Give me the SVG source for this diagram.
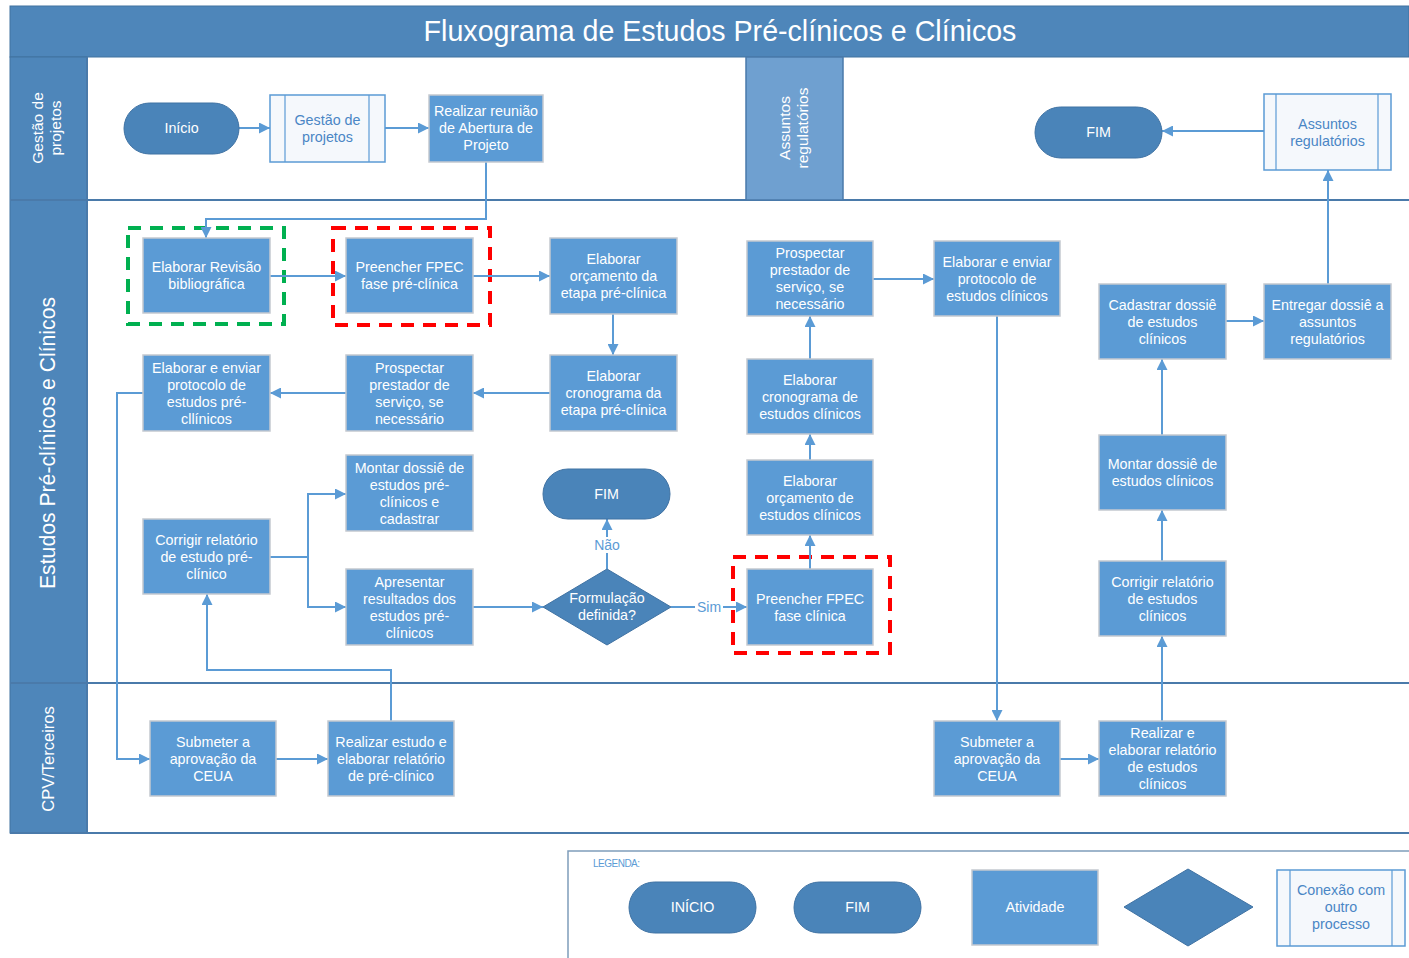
<svg xmlns="http://www.w3.org/2000/svg" width="1409" height="958" viewBox="0 0 1409 958">
<defs>
<marker id="ah" viewBox="0 0 10 10" refX="10" refY="5" markerWidth="11" markerHeight="11" markerUnits="userSpaceOnUse" orient="auto">
<path d="M0,0 L10,5 L0,10 z" fill="#5B9BD5"/>
</marker>
<style>
text{font-family:"Liberation Sans",Arial,sans-serif;}
.act rect{fill:#5B9BD5;stroke:#C4C9D0;stroke-width:1.5;}
.act text,.term text,.dec text{fill:#fff;font-size:14.3px;text-anchor:middle;}
.term rect{fill:#4A84B9;stroke:#3F72A3;stroke-width:1;}
.dec polygon{fill:#4A84B9;stroke:#3F72A3;stroke-width:1;}
.sub rect{fill:#F5F8FC;stroke:#5B9BD5;stroke-width:1.5;}
.sub line{stroke:#5B9BD5;stroke-width:1.2;}
.sub text{fill:#4A86C5;font-size:14.3px;text-anchor:middle;}
.lane{fill:#4E86BA;}
.lanetxt{fill:#fff;text-anchor:middle;}
#connectors path{fill:none;stroke:#5B9BD5;stroke-width:2;marker-end:url(#ah);}
.lbl{fill:#5B9BD5;font-size:14px;text-anchor:middle;}
.sep{stroke:#4A7AAA;stroke-width:2;}
</style>
</defs>
<rect width="1409" height="958" fill="#fff"/>

<!-- Title -->
<g id="title">
<rect x="10" y="6" width="1399" height="51" fill="#4E86BA" stroke="#41729F" stroke-width="1"/>
<text x="720" y="41" font-size="28.6" fill="#fff" text-anchor="middle">Fluxograma de Estudos Pré-clínicos e Clínicos</text>
</g>

<!-- Lanes -->
<g id="lanes">
<rect class="lane" x="10" y="57" width="77" height="776" stroke="#41729F" stroke-width="1"/>
<line class="sep" x1="10" y1="200" x2="1409" y2="200"/>
<line class="sep" x1="10" y1="683" x2="1409" y2="683"/>
<line class="sep" x1="10" y1="833" x2="1409" y2="833"/>
<line class="sep" x1="87" y1="57" x2="87" y2="833" stroke-width="1"/>
<text class="lanetxt" transform="translate(48,128) rotate(-90)" font-size="15.5"><tspan x="0" y="-5">Gestão de</tspan><tspan x="0" y="13">projetos</tspan></text>
<text class="lanetxt" transform="translate(55,443) rotate(-90)" font-size="21.2">Estudos Pré-clínicos e Clínicos</text>
<text class="lanetxt" transform="translate(54,759) rotate(-90)" font-size="16.5">CPV/Terceiros</text>
<rect x="746" y="57" width="97" height="143" fill="#6FA0D0" stroke="#4A7AAA" stroke-width="1.5"/>
<text class="lanetxt" transform="translate(795,128) rotate(-90)" font-size="15.5"><tspan x="0" y="-5">Assuntos</tspan><tspan x="0" y="13">regulatórios</tspan></text>
</g>

<!-- Highlight boxes -->
<g id="highlights" fill="none" stroke-width="4" stroke-dasharray="13,9">
<rect x="128" y="228" width="156" height="96" stroke="#00B050"/>
<rect x="333" y="228" width="157" height="97" stroke="#FF0000"/>
<rect x="733" y="557" width="157" height="96" stroke="#FF0000"/>
</g>

<!-- Connectors -->
<g id="connectors">
<path d="M239,128 H270"/>
<path d="M385,128 H429"/>
<path d="M1264,131 H1162"/>
<path d="M486,162 V219 H206 V238"/>
<path d="M270,276 H346"/>
<path d="M473,276 H550"/>
<path d="M613,314 V355"/>
<path d="M550,393 H473"/>
<path d="M346,393 H270"/>
<path d="M143,393 H117 V759 H150"/>
<path d="M276,759 H328"/>
<path d="M391,721 V670 H207 V594"/>
<path d="M270,557 H308 V494 H346"/>
<path d="M308,557 V607 H346"/>
<path d="M473,607 H543"/>
<path d="M607,569 V519"/>
<path d="M671,607 H747"/>
<path d="M810,569 V535"/>
<path d="M810,460 V434"/>
<path d="M810,359 V316"/>
<path d="M873,279 H934"/>
<path d="M997,316 V721"/>
<path d="M1060,759 H1099"/>
<path d="M1162,721 V636"/>
<path d="M1162,561 V510"/>
<path d="M1162,435 V359"/>
<path d="M1226,321 H1264"/>
<path d="M1328,284 V170"/>
<rect x="592" y="537" width="30" height="16" fill="#fff"/>
<text class="lbl" x="607" y="550">Não</text>
<rect x="695" y="599" width="28" height="16" fill="#fff"/>
<text class="lbl" x="709" y="612">Sim</text>
</g>

<!-- Nodes: Lane 1 -->
<g id="inicio" class="term"><rect x="124" y="103" width="115" height="51" rx="25.5"/><text x="181.5" y="133">Início</text></g>
<g id="gestao" class="sub"><rect x="270" y="95" width="115" height="67"/><line x1="285" y1="95" x2="285" y2="162"/><line x1="369" y1="95" x2="369" y2="162"/><text><tspan x="327.5" y="125">Gestão de</tspan><tspan x="327.5" y="142">projetos</tspan></text></g>
<g id="reuniao" class="act"><rect x="429" y="95" width="114" height="67"/><text><tspan x="486" y="116">Realizar reunião</tspan><tspan x="486" y="133">de Abertura de</tspan><tspan x="486" y="150">Projeto</tspan></text></g>
<g id="fim1" class="term"><rect x="1035" y="107" width="127" height="51" rx="25.5"/><text x="1098.5" y="137">FIM</text></g>
<g id="assuntos" class="sub"><rect x="1264" y="94" width="127" height="76"/><line x1="1276" y1="94" x2="1276" y2="170"/><line x1="1378" y1="94" x2="1378" y2="170"/><text><tspan x="1327.5" y="129">Assuntos</tspan><tspan x="1327.5" y="146">regulatórios</tspan></text></g>

<!-- Lane 2 pre-clinical -->
<g id="revisao" class="act"><rect x="143" y="238" width="127" height="75"/><text><tspan x="206.5" y="272">Elaborar Revisão</tspan><tspan x="206.5" y="289">bibliográfica</tspan></text></g>
<g id="fpec-pre" class="act"><rect x="346" y="238" width="127" height="75"/><text><tspan x="409.5" y="272">Preencher FPEC</tspan><tspan x="409.5" y="289">fase pré-clínica</tspan></text></g>
<g id="orcamento-pre" class="act"><rect x="550" y="238" width="127" height="76"/><text><tspan x="613.5" y="264">Elaborar</tspan><tspan x="613.5" y="281">orçamento da</tspan><tspan x="613.5" y="298">etapa pré-clínica</tspan></text></g>
<g id="cronograma-pre" class="act"><rect x="550" y="355" width="127" height="76"/><text><tspan x="613.5" y="381">Elaborar</tspan><tspan x="613.5" y="398">cronograma da</tspan><tspan x="613.5" y="415">etapa pré-clínica</tspan></text></g>
<g id="prospectar-pre" class="act"><rect x="346" y="355" width="127" height="76"/><text><tspan x="409.5" y="372.5">Prospectar</tspan><tspan x="409.5" y="389.5">prestador de</tspan><tspan x="409.5" y="406.5">serviço, se</tspan><tspan x="409.5" y="423.5">necessário</tspan></text></g>
<g id="protocolo-pre" class="act"><rect x="143" y="355" width="127" height="76"/><text><tspan x="206.5" y="372.5">Elaborar e enviar</tspan><tspan x="206.5" y="389.5">protocolo de</tspan><tspan x="206.5" y="406.5">estudos pré-</tspan><tspan x="206.5" y="423.5">cllínicos</tspan></text></g>
<g id="montar-pre" class="act"><rect x="346" y="455" width="127" height="76"/><text><tspan x="409.5" y="472.5">Montar dossiê de</tspan><tspan x="409.5" y="489.5">estudos pré-</tspan><tspan x="409.5" y="506.5">clínicos e</tspan><tspan x="409.5" y="523.5">cadastrar</tspan></text></g>
<g id="corrigir-pre" class="act"><rect x="143" y="519" width="127" height="75"/><text><tspan x="206.5" y="545">Corrigir relatório</tspan><tspan x="206.5" y="562">de estudo pré-</tspan><tspan x="206.5" y="579">clínico</tspan></text></g>
<g id="apresentar" class="act"><rect x="346" y="569" width="127" height="76"/><text><tspan x="409.5" y="586.5">Apresentar</tspan><tspan x="409.5" y="603.5">resultados dos</tspan><tspan x="409.5" y="620.5">estudos pré-</tspan><tspan x="409.5" y="637.5">clínicos</tspan></text></g>
<g id="fim2" class="term"><rect x="543" y="469" width="127" height="50" rx="25"/><text x="606.5" y="499">FIM</text></g>
<g id="decisao" class="dec"><polygon points="607,569 671,607 607,645 543,607"/><text><tspan x="607" y="603">Formulação</tspan><tspan x="607" y="620">definida?</tspan></text></g>

<!-- Lane 2 clinical -->
<g id="fpec-clin" class="act"><rect x="747" y="569" width="126" height="76"/><text><tspan x="810" y="603.5">Preencher FPEC</tspan><tspan x="810" y="620.5">fase clínica</tspan></text></g>
<g id="orcamento-clin" class="act"><rect x="747" y="460" width="126" height="75"/><text><tspan x="810" y="485.5">Elaborar</tspan><tspan x="810" y="502.5">orçamento de</tspan><tspan x="810" y="519.5">estudos clínicos</tspan></text></g>
<g id="cronograma-clin" class="act"><rect x="747" y="359" width="126" height="75"/><text><tspan x="810" y="384.5">Elaborar</tspan><tspan x="810" y="401.5">cronograma de</tspan><tspan x="810" y="418.5">estudos clínicos</tspan></text></g>
<g id="prospectar-clin" class="act"><rect x="747" y="241" width="126" height="75"/><text><tspan x="810" y="258">Prospectar</tspan><tspan x="810" y="275">prestador de</tspan><tspan x="810" y="292">serviço, se</tspan><tspan x="810" y="309">necessário</tspan></text></g>
<g id="protocolo-clin" class="act"><rect x="934" y="241" width="126" height="75"/><text><tspan x="997" y="266.5">Elaborar e enviar</tspan><tspan x="997" y="283.5">protocolo de</tspan><tspan x="997" y="300.5">estudos clínicos</tspan></text></g>
<g id="cadastrar" class="act"><rect x="1099" y="284" width="127" height="75"/><text><tspan x="1162.5" y="309.5">Cadastrar dossiê</tspan><tspan x="1162.5" y="326.5">de estudos</tspan><tspan x="1162.5" y="343.5">clínicos</tspan></text></g>
<g id="entregar" class="act"><rect x="1264" y="284" width="127" height="75"/><text><tspan x="1327.5" y="309.5">Entregar dossiê a</tspan><tspan x="1327.5" y="326.5">assuntos</tspan><tspan x="1327.5" y="343.5">regulatórios</tspan></text></g>
<g id="montar-clin" class="act"><rect x="1099" y="435" width="127" height="75"/><text><tspan x="1162.5" y="469">Montar dossiê de</tspan><tspan x="1162.5" y="486">estudos clínicos</tspan></text></g>
<g id="corrigir-clin" class="act"><rect x="1099" y="561" width="127" height="75"/><text><tspan x="1162.5" y="586.5">Corrigir relatório</tspan><tspan x="1162.5" y="603.5">de estudos</tspan><tspan x="1162.5" y="620.5">clínicos</tspan></text></g>

<!-- Lane 3 -->
<g id="ceua-pre" class="act"><rect x="150" y="721" width="126" height="75"/><text><tspan x="213" y="746.5">Submeter a</tspan><tspan x="213" y="763.5">aprovação da</tspan><tspan x="213" y="780.5">CEUA</tspan></text></g>
<g id="estudo-pre" class="act"><rect x="328" y="721" width="126" height="75"/><text><tspan x="391" y="746.5">Realizar estudo e</tspan><tspan x="391" y="763.5">elaborar relatório</tspan><tspan x="391" y="780.5">de pré-clínico</tspan></text></g>
<g id="ceua-clin" class="act"><rect x="934" y="721" width="126" height="75"/><text><tspan x="997" y="746.5">Submeter a</tspan><tspan x="997" y="763.5">aprovação da</tspan><tspan x="997" y="780.5">CEUA</tspan></text></g>
<g id="estudo-clin" class="act"><rect x="1099" y="721" width="127" height="75"/><text><tspan x="1162.5" y="738">Realizar e</tspan><tspan x="1162.5" y="755">elaborar relatório</tspan><tspan x="1162.5" y="772">de estudos</tspan><tspan x="1162.5" y="789">clínicos</tspan></text></g>

<!-- Legend -->
<g id="legenda">
<path d="M568,958 V851 H1409" fill="none" stroke="#7F9DBB" stroke-width="1.5"/>
<text x="593" y="867" font-size="10" fill="#5B9BD5" letter-spacing="-0.5">LEGENDA:</text>
<g class="term"><rect x="629" y="882" width="127" height="51" rx="25.5"/><text x="692.5" y="912">INÍCIO</text></g>
<g class="term"><rect x="794" y="882" width="127" height="51" rx="25.5"/><text x="857.5" y="912">FIM</text></g>
<g class="act"><rect x="972" y="870" width="126" height="75"/><text x="1035" y="912">Atividade</text></g>
<g class="dec"><polygon points="1188,869 1253,907 1188,946 1124,907"/></g>
<g class="sub"><rect x="1277" y="870" width="128" height="76"/><line x1="1290" y1="870" x2="1290" y2="946"/><line x1="1392" y1="870" x2="1392" y2="946"/><text><tspan x="1341" y="895">Conexão com</tspan><tspan x="1341" y="912">outro</tspan><tspan x="1341" y="929">processo</tspan></text></g>
</g>
</svg>
